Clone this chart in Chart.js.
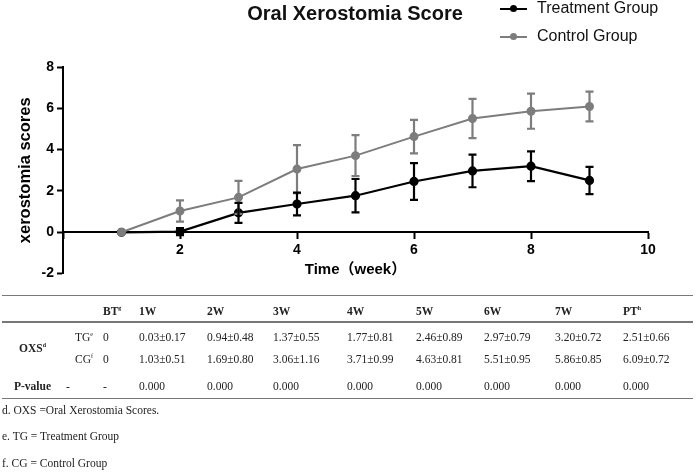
<!DOCTYPE html>
<html lang="en">
<head>
<meta charset="UTF-8">
<title>Oral Xerostomia Score</title>
<script src="https://cdn.jsdelivr.net/npm/chart.js@4.4.0/dist/chart.umd.min.js"></script>
<style>
  body { margin: 0; background: #fff; width: 696px; height: 476px; overflow: hidden; position: relative; }
  #chartWrap { position: absolute; left: 0; top: 0; width: 696px; height: 285px; }
  .title { position: absolute; left: 355px; top: 2px; transform: translateX(-50%); white-space: nowrap;
           font: bold 20px 'Liberation Sans', Arial, sans-serif; color: #111; }
  .leg { position: absolute; left: 500px; height: 20px; line-height: 20px; white-space: nowrap;
         font: 16px 'Liberation Sans', Arial, sans-serif; color: #111; }
  .leg .mk { display: inline-block; position: relative; width: 27px; height: 2px; vertical-align: middle; margin-right: 10px; }
  .leg .mk::after { content: ''; position: absolute; left: 10px; top: -2.5px; width: 7px; height: 7px; border-radius: 50%; background: inherit; }
  #table { position: absolute; left: 0; top: 0; width: 696px; height: 476px; pointer-events: none;
           font-family: 'Liberation Serif', 'Times New Roman', serif; color: #222; font-size: 11.5px; }
  .c { position: absolute; height: 16px; line-height: 16px; white-space: nowrap; }
  .b { font-weight: bold; }
  sup { font-size: 6px; vertical-align: 5px; line-height: 0; }
  .rule { position: absolute; left: 2px; width: 691px; background: #777; }
  .note { position: absolute; left: 2px; font-size: 11.5px; line-height: 16px; color: #222; }
</style>
</head>
<body>
<div id="chartWrap"><canvas id="chart" width="696" height="285"></canvas></div>
<div class="title">Oral Xerostomia Score</div>
<div class="leg" style="top:-1px"><span class="mk" style="background:#000"></span>Treatment Group</div>
<div class="leg" style="top:27px"><span class="mk" style="background:#7d7d7d"></span>Control Group</div>

<div id="table">
  <div class="rule" style="top:295px;height:1px"></div>
  <div class="rule" style="top:321px;height:2px"></div>
  <div class="rule" style="top:398px;height:1px"></div>
  <div class="note" style="top:402px">d. OXS =Oral Xerostomia Scores.</div>
  <div class="note" style="top:428px">e. TG = Treatment Group</div>
  <div class="note" style="top:455px">f. CG = Control Group</div>
</div>

<script>
// time points (weeks) -- first point is baseline, last is post-treatment
const weeks = [1, 2, 3, 4, 5, 6, 7, 8, 9];
const treatMean = [0, 0.03, 0.94, 1.37, 1.77, 2.46, 2.97, 3.20, 2.51];
const treatSd   = [0, 0.17, 0.48, 0.55, 0.81, 0.89, 0.79, 0.72, 0.66];
const ctrlMean  = [0, 1.03, 1.69, 3.06, 3.71, 4.63, 5.51, 5.86, 6.09];
const ctrlSd    = [0, 0.51, 0.80, 1.16, 0.99, 0.81, 0.95, 0.85, 0.72];
const pValues   = ['-', '0.000', '0.000', '0.000', '0.000', '0.000', '0.000', '0.000', '0.000'];
const colHeads  = ['BT', '1W', '2W', '3W', '4W', '5W', '6W', '7W', 'PT'];
const colSups   = ['g', '', '', '', '', '', '', '', 'h'];

const FONT = "'Liberation Sans', Arial, 'Noto Sans CJK SC', sans-serif";

// draws mean ± SD whiskers
const errorBars = {
  id: 'errorBars',
  afterDatasetsDraw(chart) {
    const ctx = chart.ctx;
    const yScale = chart.scales.y;
    for (let i = chart.data.datasets.length - 1; i >= 0; i--) {
      const ds = chart.data.datasets[i];
      const meta = chart.getDatasetMeta(i);
      ctx.save();
      ctx.strokeStyle = ds.borderColor;
      ctx.lineWidth = 2.2;
      meta.data.forEach((pt, j) => {
        const sd = ds.sd[j];
        if (!sd) return;
        const m = ds.data[j].y;
        const top = yScale.getPixelForValue(m + sd);
        const bot = yScale.getPixelForValue(m - sd);
        ctx.beginPath();
        ctx.moveTo(pt.x, top); ctx.lineTo(pt.x, bot);
        ctx.moveTo(pt.x - 4, top); ctx.lineTo(pt.x + 4, top);
        ctx.moveTo(pt.x - 4, bot); ctx.lineTo(pt.x + 4, bot);
        ctx.stroke();
      });
      ctx.restore();
    }
  }
};

const toPoints = arr => weeks.map((w, i) => ({ x: w, y: arr[i] }));

new Chart(document.getElementById('chart'), {
  type: 'line',
  data: {
    datasets: [
      {
        label: 'Treatment Group',
        data: toPoints(treatMean),
        sd: treatSd,
        borderColor: '#000',
        backgroundColor: '#000',
        borderWidth: 2.2,
        pointRadius: 3.5,
        order: 2
      },
      {
        label: 'Control Group',
        data: toPoints(ctrlMean),
        sd: ctrlSd,
        borderColor: '#7d7d7d',
        backgroundColor: '#7d7d7d',
        borderWidth: 2,
        pointRadius: 3.5,
        order: 1
      }
    ]
  },
  options: {
    responsive: false,
    devicePixelRatio: 1,
    animation: false,
    layout: { padding: { left: 12, right: 48, top: 67, bottom: 0 } },
    plugins: { legend: { display: false }, tooltip: { enabled: false } },
    scales: {
      x: {
        type: 'linear',
        position: { y: 0 },
        min: 0, max: 10,
        afterFit: s => { s.height = 51; },
        ticks: {
          stepSize: 2, color: '#000', padding: 3,
          font: { family: FONT, size: 14, weight: 'bold' },
          callback: v => v === 0 ? '' : v
        },
        grid: { drawOnChartArea: false, tickLength: 6, tickWidth: 2, tickColor: '#000' },
        border: { color: '#000', width: 2 },
        title: {
          display: true, text: 'Time（week）', color: '#000',
          font: { family: FONT, size: 15, weight: 'bold' },
          padding: { top: 2, bottom: 4 }
        }
      },
      y: {
        min: -2, max: 8,
        afterFit: s => { s.width = 51; },
        ticks: {
          stepSize: 2, color: '#000', padding: 3,
          font: { family: FONT, size: 14, weight: 'bold' }
        },
        grid: { drawOnChartArea: false, tickLength: 6, tickWidth: 2, tickColor: '#000' },
        border: { color: '#000', width: 2 },
        title: {
          display: true, text: 'xerostomia scores', color: '#000',
          font: { family: FONT, size: 16.5, weight: 'bold' },
          padding: { top: 4, bottom: 4 }
        }
      }
    }
  },
  plugins: [errorBars]
});

// table below the chart, built from the same arrays
const table = document.getElementById('table');
const colX = [103, 139, 207, 273, 347, 416, 484, 555, 623];
function cell(text, x, yMid, bold) {
  const d = document.createElement('div');
  d.className = 'c' + (bold ? ' b' : '');
  d.style.left = x + 'px';
  d.style.top = (yMid - 8) + 'px';
  d.innerHTML = text;
  table.appendChild(d);
}
const fmt = (m, sd, i) => i === 0 ? String(m) : m.toFixed(2) + '±' + sd.toFixed(2);

colHeads.forEach((h, i) => cell(h + (colSups[i] ? '<sup>' + colSups[i] + '</sup>' : ''), colX[i], 311, true));
cell('OXS<sup>d</sup>', 19, 348, true);
cell('TG<sup>e</sup>', 75, 337, false);
cell('CG<sup>f</sup>', 75, 359, false);
cell('P-value', 14, 386, true);
cell('-', 66, 386, false);
weeks.forEach((w, i) => {
  cell(fmt(treatMean[i], treatSd[i], i), colX[i], 337, false);
  cell(fmt(ctrlMean[i], ctrlSd[i], i), colX[i], 359, false);
  cell(pValues[i], colX[i], 386, false);
});
</script>
</body>
</html>
